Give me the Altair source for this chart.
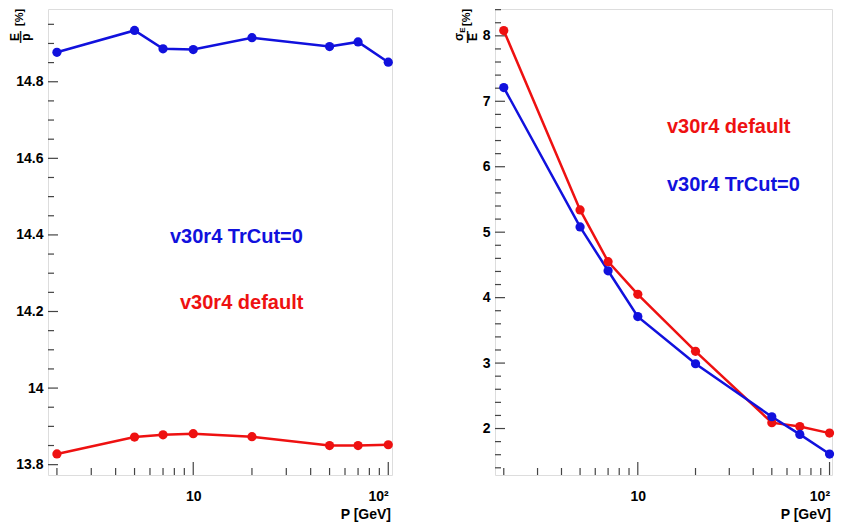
import altair as alt
import pandas as pd

# ---------------- data ----------------
P = [2, 5, 7, 10, 20, 50, 70, 100]
ep_trcut = [14.877, 14.934, 14.886, 14.884, 14.915, 14.892, 14.904, 14.851]
ep_default = [13.828, 13.872, 13.878, 13.881, 13.873, 13.850, 13.850, 13.852]
res_default = [8.08, 5.34, 4.55, 4.05, 3.18, 2.09, 2.03, 1.93]
res_trcut = [7.21, 5.08, 4.41, 3.71, 2.99, 2.18, 1.91, 1.61]

series_names = ["v30r4 default", "v30r4 TrCut=0"]
series_colors = ["#ee1111", "#1111dd"]

x_major = [10, 100]
x_minor = [2, 3, 4, 5, 6, 7, 8, 9, 20, 30, 40, 50, 60, 70, 80, 90]
y1_labels = [13.8, 14.0, 14.2, 14.4, 14.6, 14.8]
y1_minor = [13.85, 13.9, 13.95, 14.05, 14.1, 14.15, 14.25, 14.3, 14.35,
            14.45, 14.5, 14.55, 14.65, 14.7, 14.75, 14.85, 14.9, 14.95]
y2_labels = [2, 3, 4, 5, 6, 7, 8]
y2_minor = [1.4, 1.6, 1.8, 2.2, 2.4, 2.6, 2.8, 3.2, 3.4, 3.6, 3.8, 4.2, 4.4,
            4.6, 4.8, 5.2, 5.4, 5.6, 5.8, 6.2, 6.4, 6.6, 6.8, 7.2, 7.4, 7.6,
            7.8, 8.2, 8.4]

FONT = "Liberation Sans"
W1, W2, H = 344, 337, 466

def long_df(a, b):
    return pd.DataFrame({
        "P": P * 2,
        "v": a + b,
        "s": [series_names[0]] * len(P) + [series_names[1]] * len(P),
    })

def panel(df, xdom, ydom, ylabels, yminor, W, texts, titlebits):
    xs = alt.Scale(type="log", domain=xdom, nice=False)
    ys = alt.Scale(domain=ydom, nice=False, zero=False)
    xaxis = alt.Axis(values=x_major, ticks=False, tickSize=0, domain=False, grid=False,
                     labelExpr="datum.value == 100 ? '10²' : '10'",
                     labelFlush=12,
                     labelFont=FONT, labelFontSize=14, labelFontWeight="bold",
                     labelColor="black", labelPadding=14, title=None)
    yaxis = alt.Axis(values=ylabels, ticks=False, tickSize=0, domain=False, grid=False,
                     format=".1~f", labelFont=FONT, labelFontSize=14,
                     labelFontWeight="bold", labelColor="black", labelPadding=5,
                     labelFlush=False, title=None)
    color = alt.Color("s:N", scale=alt.Scale(domain=series_names, range=series_colors),
                      legend=None)
    base = alt.Chart(df).encode(
        x=alt.X("P:Q", scale=xs, axis=xaxis),
        y=alt.Y("v:Q", scale=ys, axis=yaxis),
        color=color,
        detail="s:N",
    )
    lines = base.mark_line(strokeWidth=2.5)
    pts = base.mark_circle(size=85, opacity=1)

    def xticks(vals, ln):
        return alt.Chart(pd.DataFrame({"t": vals})).mark_rule(
            color="#444", strokeWidth=1.2).encode(
            x=alt.X("t:Q", scale=xs, axis=xaxis),
            y=alt.value(H), y2=alt.value(H - ln))

    def yticks(vals, ln):
        return alt.Chart(pd.DataFrame({"t": vals})).mark_rule(
            color="#444", strokeWidth=1.2).encode(
            y=alt.Y("t:Q", scale=ys, axis=yaxis),
            x=alt.value(0), x2=alt.value(ln))

    layers = [xticks(x_minor, 7), xticks(x_major, 13),
              yticks(yminor, 6), yticks(ylabels, 10), lines, pts]

    for (txt, col, px, py) in texts:
        layers.append(alt.Chart(pd.DataFrame({"t": [txt]})).mark_text(
            font=FONT, fontSize=20, fontWeight="bold", color=col,
            align="left", baseline="middle").encode(
            text="t:N", x=alt.value(px), y=alt.value(py)))

    # x-axis title
    layers.append(alt.Chart(pd.DataFrame({"t": ["P [GeV]"]})).mark_text(
        font=FONT, fontSize=14, fontWeight="bold", color="black",
        align="right", baseline="middle").encode(
        text="t:N", x=alt.value(W - 1), y=alt.value(H + 40)))

    # y-axis title pieces (rotated fraction)
    for (txt, px, py, fs, al) in titlebits:
        layers.append(alt.Chart(pd.DataFrame({"t": [txt]})).mark_text(
            font=FONT, fontSize=fs, fontWeight="bold", color="black", angle=270,
            align=al, baseline="middle").encode(
            text="t:N", x=alt.value(px), y=alt.value(py)))

    return alt.layer(*layers).properties(width=W, height=H)

left = panel(
    long_df(ep_default, ep_trcut), [1.8, 104.5], [13.773, 14.99], y1_labels, y1_minor, W1,
    [("v30r4 TrCut=0", series_colors[1], 122, 228),
     ("v30r4 default", series_colors[0], 132, 294)],
    [("E", -33, 28, 12, "center"), ("—", -28, 28, 12, "center"),
     ("p", -22, 28, 12, "center"), ("[%]", -28, 17, 11, "left")],
)

right = panel(
    long_df(res_default, res_trcut), [1.8, 103], [1.29, 8.41], y2_labels, y2_minor, W2,
    [("v30r4 default", series_colors[0], 172, 118),
     ("v30r4 TrCut=0", series_colors[1], 172, 176)],
    [("σ", -36, 28, 12, "center"), ("E", -32, 21, 8, "center"),
     ("—", -28, 28, 12, "center"), ("E", -22, 28, 12, "center"),
     ("[%]", -28, 17, 11, "left")],
)

chart = alt.hconcat(left, right, spacing=58).properties(
    padding={"left": 0, "top": 0, "right": 0, "bottom": 0}
).configure_view(stroke="#555", strokeWidth=1.6).configure(background="white")

chart.save("out.html", embed_options={"renderer": "svg", "actions": False})
